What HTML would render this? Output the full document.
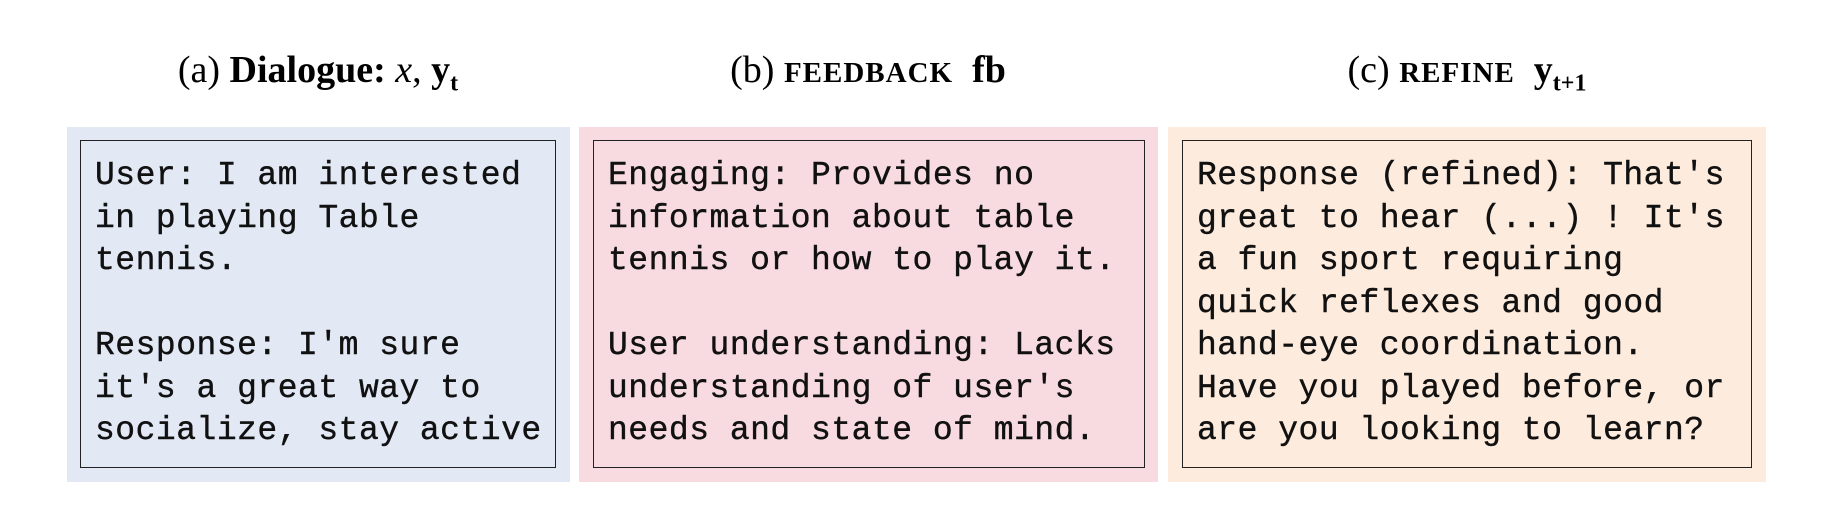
<!DOCTYPE html>
<html><head><meta charset="utf-8"><style>
body{margin:0;width:1832px;height:532px;background:#fff;position:relative;overflow:hidden}
.t{position:absolute;top:48px;font-family:"Liberation Serif",serif;font-size:38px;white-space:nowrap;transform:translateX(-50%)}
.sc{font-weight:bold;font-size:29px;letter-spacing:1px}
.p{position:absolute;top:127px;height:355px}
.b{position:absolute;top:13px;bottom:14px;border:1.5px solid #222;box-sizing:border-box}
pre{margin:0;position:absolute;left:14px;top:14px;font-family:"Liberation Mono",monospace;font-size:33px;letter-spacing:0.5px;line-height:42.5px;color:#111;-webkit-text-stroke:0.4px #111}
</style></head><body>
<div class="t" style="left:318px">(a) <b>Dialogue:</b> <i>x</i>, <b>y<sub style="font-size:24px">t</sub></b></div>
<div class="t" style="left:868px">(b) <span class="sc">FEEDBACK</span> &nbsp;<b>fb</b></div>
<div class="t" style="left:1467px">(c) <span class="sc">REFINE</span> &nbsp;<b>y<sub style="font-size:24px">t+1</sub></b></div>

<div class="p" style="left:67px;width:503px;background:#e2e9f5">
<div class="b" style="left:13px;right:14px"><pre>User: I am interested
in playing Table
tennis.

Response: I'm sure
it's a great way to
socialize, stay active</pre></div></div>

<div class="p" style="left:579px;width:579px;background:#f7dbe0">
<div class="b" style="left:14px;right:13px"><pre>Engaging: Provides no
information about table
tennis or how to play it.

User understanding: Lacks
understanding of user's
needs and state of mind.</pre></div></div>

<div class="p" style="left:1168px;width:598px;background:#fdebdd">
<div class="b" style="left:14px;right:14px"><pre>Response (refined): That's
great to hear (...) ! It's
a fun sport requiring
quick reflexes and good
hand-eye coordination.
Have you played before, or
are you looking to learn?</pre></div></div>
</body></html>
